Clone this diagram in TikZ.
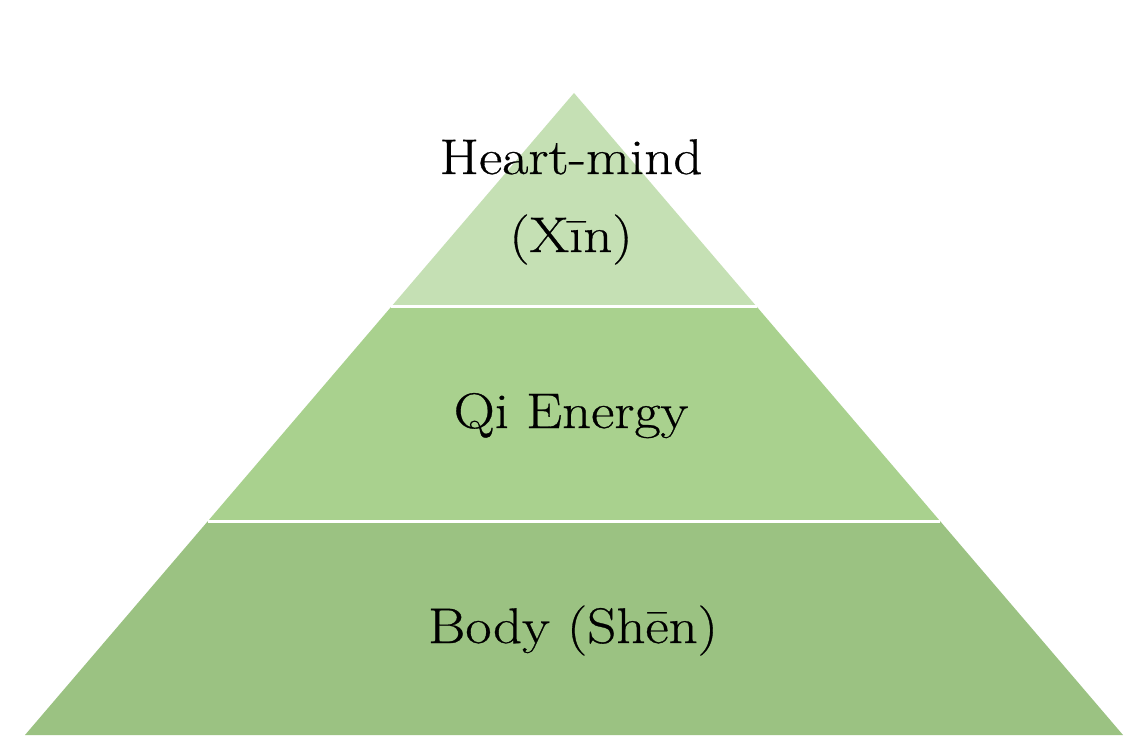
\documentclass[tikz,border=0pt]{standalone}
\usepackage{fontspec}
\setmainfont[FakeStretch=1.14,FakeBold=0.6]{Latin Modern Roman}
\definecolor{gtop}{RGB}{197,224,180}
\definecolor{gmid}{RGB}{169,209,142}
\definecolor{gbot}{RGB}{155,194,130}
\tikzset{
  lbl/.style={anchor=base, inner sep=0pt, text=black, font=\fontsize{50}{60}\selectfont},
  gap/.style={draw=white, line width=3pt}
}
\begin{document}
\begin{tikzpicture}[x=1pt,y=-1pt]
\fill[white] (0,0) rectangle (1144,754);
\useasboundingbox (0,0) rectangle (1144,754);
\coordinate (apex) at (574,93);
\coordinate (l1) at (391,307);
\coordinate (r1) at (757,307);
\coordinate (l2) at (208,521);
\coordinate (r2) at (940,521);
\coordinate (bl) at (25,735);
\coordinate (br) at (1123,735);
\fill[gtop] (apex) -- (r1) -- (l1) -- cycle;
\fill[gmid] (l1) -- (r1) -- (r2) -- (l2) -- cycle;
\fill[gbot] (l2) -- (r2) -- (br) -- (bl) -- cycle;
\draw[gap] (l1) -- (r1);
\draw[gap] (l2) -- (r2);
\node[lbl] (heart) at (571,174) {Heart-mind};
\node[lbl] (xin) at (571,252) {(Xīn)};
\node[lbl] (qi) at (571,428) {Qi Energy};
\node[lbl] (body) at (573,643) {Body (Shēn)};
\end{tikzpicture}
\end{document}
